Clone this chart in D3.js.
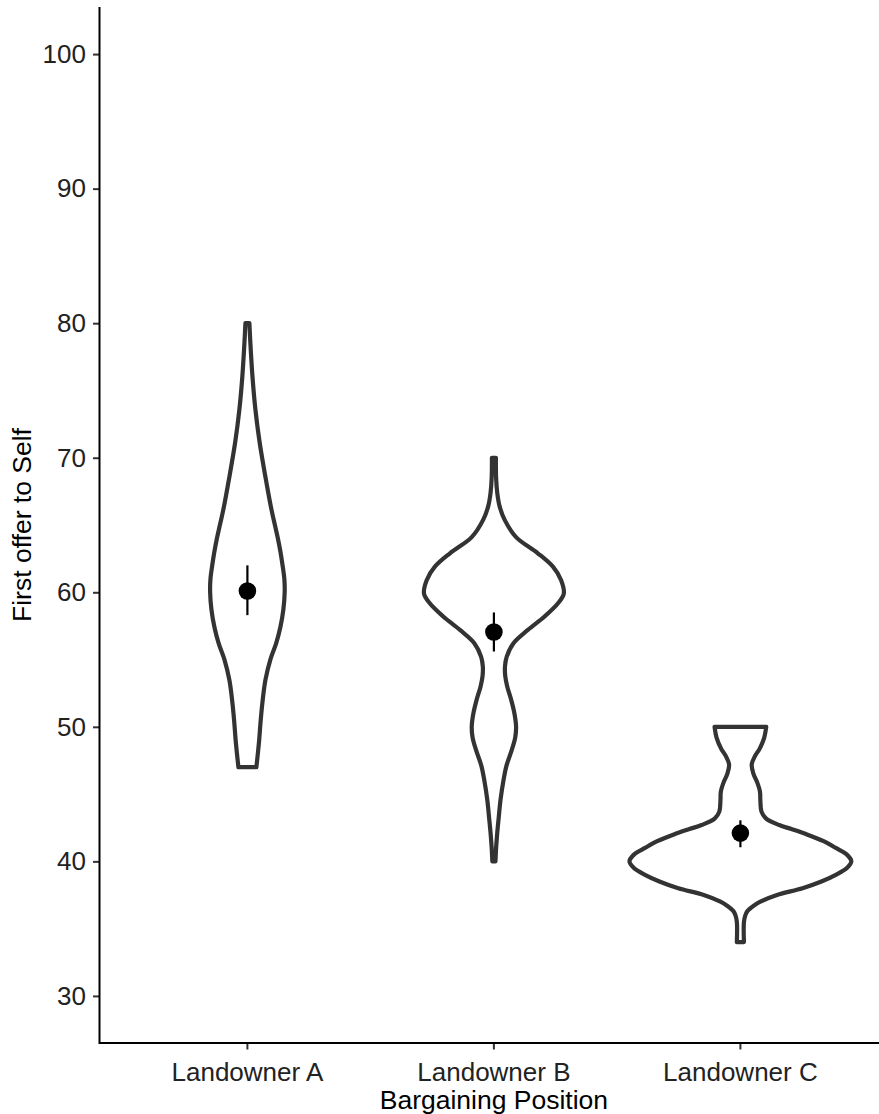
<!DOCTYPE html>
<html>
<head>
<meta charset="utf-8">
<script src="https://cdn.jsdelivr.net/npm/d3@7"></script>
<style>
  html, body { margin: 0; padding: 0; background: #fff; }
  svg text { font-family: "Liberation Sans", Arial, sans-serif; }
</style>
</head>
<body>
<svg id="chart" width="879" height="1114"></svg>
<script>
// Bargaining positions on the x axis
const categories = ["Landowner A", "Landowner B", "Landowner C"];

// Violin outlines: [offer, relative density]
const densityA = [[47, 0.081], [48, 0.094], [49, 0.106], [50.5, 0.12], [52, 0.138], [53.5, 0.163],
  [55, 0.207], [56.2, 0.259], [57.4, 0.297], [58.7, 0.324], [60, 0.336], [61, 0.333], [62, 0.317],
  [63, 0.298], [64, 0.275], [65, 0.248], [66.1, 0.218], [68.6, 0.162], [71.1, 0.111], [73.6, 0.072],
  [76, 0.046], [78.5, 0.027], [80, 0.018]];
const densityB = [[40, 0.014], [41, 0.02], [42.1, 0.03], [43.3, 0.044], [44.6, 0.06], [46, 0.086],
  [47.1, 0.113], [48.3, 0.162], [49.2, 0.192], [50, 0.2], [51, 0.185], [52, 0.156], [53, 0.12],
  [53.8, 0.102], [54.5, 0.1], [55.2, 0.115], [56.2, 0.175], [57.2, 0.306], [58.2, 0.457], [59.2, 0.58],
  [59.9, 0.63], [60.9, 0.606], [61.9, 0.532], [62.9, 0.396], [64.1, 0.2], [65.4, 0.096], [66.4, 0.051],
  [67.4, 0.03], [68.5, 0.02], [70, 0.018]];
const densityC = [[34, 0.032], [35.5, 0.032], [36, 0.045], [36.3, 0.063], [36.7, 0.12], [37, 0.18],
  [37.5, 0.33], [38, 0.56], [38.5, 0.73], [39, 0.86], [39.5, 0.96], [40, 1.0], [40.5, 0.96], [41, 0.86],
  [41.5, 0.75], [42, 0.6], [42.4, 0.46], [42.7, 0.35], [43.2, 0.23], [43.7, 0.19], [44.5, 0.18],
  [45.2, 0.176], [45.9, 0.15], [46.5, 0.118], [47.2, 0.102], [47.8, 0.13], [48.4, 0.175], [49.2, 0.215],
  [50, 0.233]];
const densities = [densityA, densityB, densityC];

// Mean first offer with error bar limits
const means = [60.1, 57.05, 42.1];
const lower = [58.3, 55.6, 41.05];
const upper = [62.0, 58.5, 43.05];

const yTicks = [30, 40, 50, 60, 70, 80, 90, 100];

const svg = d3.select("#chart");
const panel = { left: 99.5, right: 888.3, top: 7, bottom: 1043 };

const x = d3.scaleBand()
  .domain(categories)
  .range([panel.left, panel.right])
  .paddingInner(0)
  .paddingOuter(0.1);

const y = d3.scaleLinear()
  .domain([26.5, 103.5])
  .range([panel.bottom, panel.top]);

const w = d3.scaleLinear()
  .domain([0, 1])
  .range([0, x.bandwidth() * 0.45]);

const cx = c => x(c) + x.bandwidth() / 2;

// Violins
const area = d3.area()
  .curve(d3.curveCatmullRom.alpha(0.5));

categories.forEach((c, i) => {
  const mid = cx(c);
  area.x0(d => mid - w(d[1])).x1(d => mid + w(d[1])).y(d => y(d[0]));
  svg.append("path")
    .attr("d", area(densities[i]))
    .attr("fill", "#ffffff")
    .attr("stroke", "#333333")
    .attr("stroke-width", 4.2)
    .attr("stroke-linejoin", "round");
});

// Error bars and means
const g = svg.append("g");
g.selectAll("line.err")
  .data(categories)
  .join("line")
  .attr("class", "err")
  .attr("x1", c => cx(c)).attr("x2", c => cx(c))
  .attr("y1", (c, i) => y(lower[i])).attr("y2", (c, i) => y(upper[i]))
  .attr("stroke", "#000").attr("stroke-width", 2.2);
g.selectAll("circle")
  .data(categories)
  .join("circle")
  .attr("cx", c => cx(c))
  .attr("cy", (c, i) => y(means[i]))
  .attr("r", 8.8)
  .attr("fill", "#000");

// Axes
const yAxis = svg.append("g")
  .attr("transform", `translate(${panel.left},0)`)
  .call(d3.axisLeft(y).tickValues(yTicks).tickSize(6.5).tickPadding(7));
const xAxis = svg.append("g")
  .attr("transform", `translate(0,${panel.bottom})`)
  .call(d3.axisBottom(x).tickSize(6.5).tickPadding(7));

[yAxis, xAxis].forEach(ax => {
  ax.select(".domain").remove();
  ax.selectAll(".tick line").attr("stroke", "#333").attr("stroke-width", 2);
  ax.selectAll(".tick text").attr("fill", "#222").style("font-size", "26px");
});
xAxis.selectAll(".tick text").attr("dy", "0.95em");

// Axis lines (L-shaped frame)
svg.append("path")
  .attr("d", `M${panel.left},${panel.top}V${panel.bottom}H${879}`)
  .attr("fill", "none")
  .attr("stroke", "#000")
  .attr("stroke-width", 2);

// Axis titles
svg.append("text")
  .attr("x", cx("Landowner B"))
  .attr("y", 1109)
  .attr("text-anchor", "middle")
  .attr("fill", "#000")
  .style("font-size", "26.5px")
  .text("Bargaining Position");

svg.append("text")
  .attr("transform", `translate(31,${(panel.top + panel.bottom) / 2}) rotate(-90)`)
  .attr("text-anchor", "middle")
  .attr("fill", "#000")
  .style("font-size", "26.5px")
  .text("First offer to Self");
</script>
</body>
</html>
